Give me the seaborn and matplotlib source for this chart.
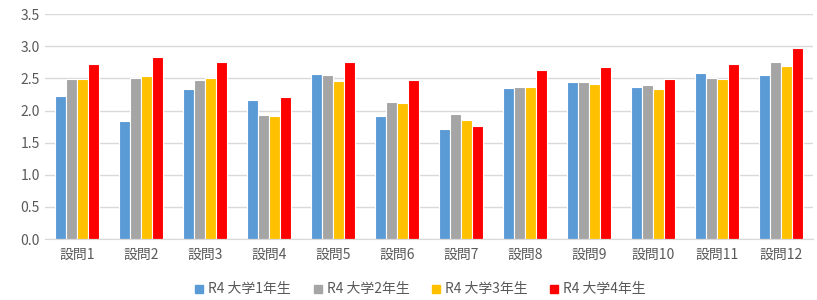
import pandas as pd
import seaborn as sns
import matplotlib.pyplot as plt
from matplotlib.lines import Line2D

questions = [f'設問{i}' for i in range(1, 13)]
groups = ['R4 大学1年生', 'R4 大学2年生', 'R4 大学3年生', 'R4 大学4年生']
year1 = [2.22, 1.84, 2.34, 2.17, 2.57, 1.92, 1.72, 2.35, 2.44, 2.36, 2.58, 2.56]
year2 = [2.49, 2.51, 2.47, 1.93, 2.55, 2.13, 1.94, 2.37, 2.44, 2.39, 2.50, 2.76]
year3 = [2.49, 2.53, 2.50, 1.91, 2.46, 2.11, 1.85, 2.37, 2.42, 2.34, 2.49, 2.69]
year4 = [2.73, 2.83, 2.76, 2.21, 2.76, 2.47, 1.76, 2.63, 2.67, 2.49, 2.73, 2.97]
colors = ['#5B9BD5', '#A5A5A5', '#FFC000', '#FF0000']

rows = []
for g, vals in zip(groups, [year1, year2, year3, year4]):
    for q, v in zip(questions, vals):
        rows.append({'question': q, 'group': g, 'value': v})
df = pd.DataFrame(rows)

sns.set_style('white')
plt.rcParams['font.family'] = ['Noto Sans CJK JP', 'DejaVu Sans']

fig = plt.figure(figsize=(8.17, 3.0), dpi=100)
ax = fig.add_axes([0.055, 0.203, 0.94, 0.75])

sns.barplot(data=df, x='question', y='value', hue='group', palette=colors,
            saturation=1, width=0.7, edgecolor='white', linewidth=0.8,
            ax=ax, legend=False)

ax.set_ylim(0, 3.5)
ax.set_yticks([i * 0.5 for i in range(8)])
ax.set_yticklabels([f'{i * 0.5:.1f}' for i in range(8)])
ax.yaxis.grid(True, color='#D9D9D9', linewidth=1)
ax.set_axisbelow(True)
for s in ['top', 'right', 'left']:
    ax.spines[s].set_visible(False)
ax.spines['bottom'].set_color('#D9D9D9')
ax.tick_params(axis='both', length=0, colors='#595959', labelsize=10)
ax.tick_params(axis='x', pad=6)
ax.set_xlabel('')
ax.set_ylabel('')

handles = [Line2D([], [], marker='s', linestyle='', color=c, markersize=6) for c in colors]
fig.legend(handles, groups, loc='center', bbox_to_anchor=(0.512, 0.035), ncol=4,
           frameon=False, fontsize=10, handletextpad=0.05, handlelength=1.2,
           columnspacing=1.3, labelcolor='#595959')

fig.savefig('out.png', dpi=100)
